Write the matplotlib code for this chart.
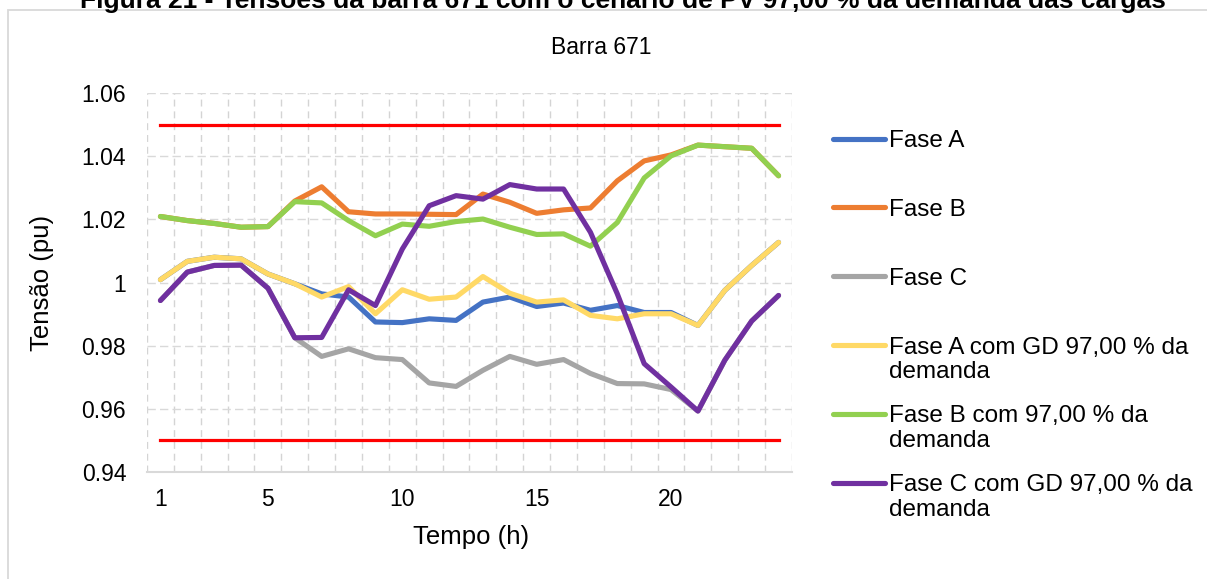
import matplotlib
matplotlib.use("Agg")
import matplotlib.pyplot as plt
from matplotlib.patches import Rectangle
from matplotlib.ticker import FuncFormatter

plt.rcParams['font.family'] = ['Liberation Sans', 'DejaVu Sans']

# ---------------- data ----------------
horas = list(range(1, 25))
fase_a = [1.0009, 1.0067, 1.0080, 1.0075, 1.0027, 0.9996, 0.9964, 0.9954, 0.9875, 0.9873,
          0.9885, 0.9880, 0.9938, 0.9954, 0.9924, 0.9935, 0.9912, 0.9927, 0.9905, 0.9905,
          0.9864, 0.9975, 1.0054, 1.0127]
fase_b = [1.0209, 1.0196, 1.0187, 1.0175, 1.0177, 1.0258, 1.0303, 1.0224, 1.0217, 1.0217,
          1.0216, 1.0215, 1.0280, 1.0254, 1.0219, 1.0230, 1.0236, 1.0322, 1.0385, 1.0404,
          1.0435, 1.0430, 1.0425, 1.0338]
fase_c = [0.9943, 1.0033, 1.0054, 1.0055, 0.9982, 0.9825, 0.9766, 0.9790, 0.9762, 0.9756,
          0.9682, 0.9671, 0.9722, 0.9766, 0.9741, 0.9756, 0.9712, 0.9680, 0.9679, 0.9661,
          0.9593, 0.9754, 0.9878, 0.9959]
fase_a_gd = [1.0009, 1.0067, 1.0080, 1.0075, 1.0027, 0.9996, 0.9954, 0.9987, 0.9901, 0.9977,
             0.9947, 0.9954, 1.0019, 0.9966, 0.9938, 0.9945, 0.9896, 0.9885, 0.9901, 0.9901,
             0.9864, 0.9975, 1.0054, 1.0127]
fase_b_gd = [1.0209, 1.0196, 1.0187, 1.0175, 1.0177, 1.0256, 1.0252, 1.0196, 1.0148, 1.0185,
             1.0178, 1.0193, 1.0201, 1.0175, 1.0152, 1.0154, 1.0115, 1.0190, 1.0331, 1.0401,
             1.0435, 1.0430, 1.0425, 1.0338]
fase_c_gd = [0.9943, 1.0033, 1.0054, 1.0055, 0.9982, 0.9825, 0.9826, 0.9977, 0.9927, 1.0106,
             1.0243, 1.0275, 1.0264, 1.0310, 1.0296, 1.0296, 1.0159, 0.9964, 0.9743, 0.9669,
             0.9593, 0.9754, 0.9878, 0.9959]
limite_sup = [1.05] * 24
limite_inf = [0.95] * 24

series_labels = ["Fase A", "Fase B", "Fase C",
                 "Fase A com GD 97,00 % da\ndemanda",
                 "Fase B com 97,00 % da\ndemanda",
                 "Fase C com GD 97,00 % da\ndemanda"]
y_ticks = [0.94, 0.96, 0.98, 1.00, 1.02, 1.04, 1.06]
x_ticks = [1, 5, 10, 15, 20]

colors = ["#4472C4", "#ED7D31", "#A5A5A5", "#FFD966", "#92D050", "#7030A0"]

# ---------------- figure ----------------
W, H = 1207, 579
fig = plt.figure(figsize=(W / 100, H / 100), dpi=100)
fig.patch.set_facecolor("white")

def fx(px):
    return px / W

def fy(py):
    return 1 - py / H

# chart border (light grey)
fig.patches.append(Rectangle((fx(8), fy(700)), fx(1210) - fx(8), fy(10) - fy(700),
                             transform=fig.transFigure, fill=False,
                             edgecolor="#d9d9d9", lw=1.3, zorder=0))

ax = fig.add_axes([fx(147), fy(472), fx(792) - fx(147), fy(93) - fy(472)])

ax.plot(horas, limite_sup, color="#FF0000", lw=2.3, zorder=3)
ax.plot(horas, limite_inf, color="#FF0000", lw=2.3, zorder=3)

handles = []
for vals, c in zip([fase_a, fase_b, fase_c, fase_a_gd, fase_b_gd, fase_c_gd], colors):
    ln, = ax.plot(horas, vals, color=c, lw=3.7, solid_joinstyle="round",
                  solid_capstyle="round", zorder=4)
    handles.append(ln)

ax.set_xlim(0.5, 24.5)
ax.set_ylim(0.94, 1.06)
ax.set_yticks(y_ticks)
ax.yaxis.set_major_formatter(FuncFormatter(lambda v, p: f"{v:g}"))
ax.set_xticks(x_ticks)
ax.set_xticks([i + 0.5 for i in range(0, 25)], minor=True)

ax.grid(True, which="major", axis="y", color="#d9d9d9", lw=1.0, linestyle=(0, (6, 3)), zorder=1)
ax.grid(True, which="minor", axis="x", color="#d4d4d4", lw=1.0, linestyle=(0, (5, 3.5)), zorder=1)
ax.set_axisbelow(True)

for s in ["top", "right", "left"]:
    ax.spines[s].set_visible(False)
ax.spines["bottom"].set_color("#d9d9d9")
ax.spines["bottom"].set_linewidth(1.5)

ax.tick_params(axis="both", which="both", length=0, labelsize=16.5, colors="black")
ax.tick_params(axis="y", pad=15)
ax.tick_params(axis="x", pad=11.5)

# axis titles
fig.text(fx(471), fy(537), "Tempo (h)", ha="center", va="center", fontsize=18.5)
fig.text(fx(42), fy(283), "Tensão (pu)", ha="center", va="center", fontsize=18.5, rotation=90)
fig.text(fx(601), fy(47), "Barra 671", ha="center", va="center", fontsize=16.5)

# clipped caption at the very top
fig.text(fx(623), fy(8), "Figura 21 - Tensões da barra 671 com o cenário de PV 97,00 % da demanda das cargas",
         ha="center", va="baseline", fontsize=19, fontweight="bold")

# legend
leg_labels = [l if "\n" in l else l + "\n " for l in series_labels]
leg = ax.legend(handles, leg_labels, loc="upper left",
                bbox_to_anchor=(fx(833), fy(130)), bbox_transform=fig.transFigure,
                frameon=False, fontsize=17.5, handlelength=2.14, handletextpad=0.18,
                labelspacing=0.91, borderpad=0, borderaxespad=0)
for t in leg.get_texts():
    t.set_linespacing(1.16)
try:
    for col in leg._legend_handle_box.get_children():
        for item in col.get_children():
            item.align = "top"
except Exception:
    pass

fig.savefig("out.png", dpi=100)
